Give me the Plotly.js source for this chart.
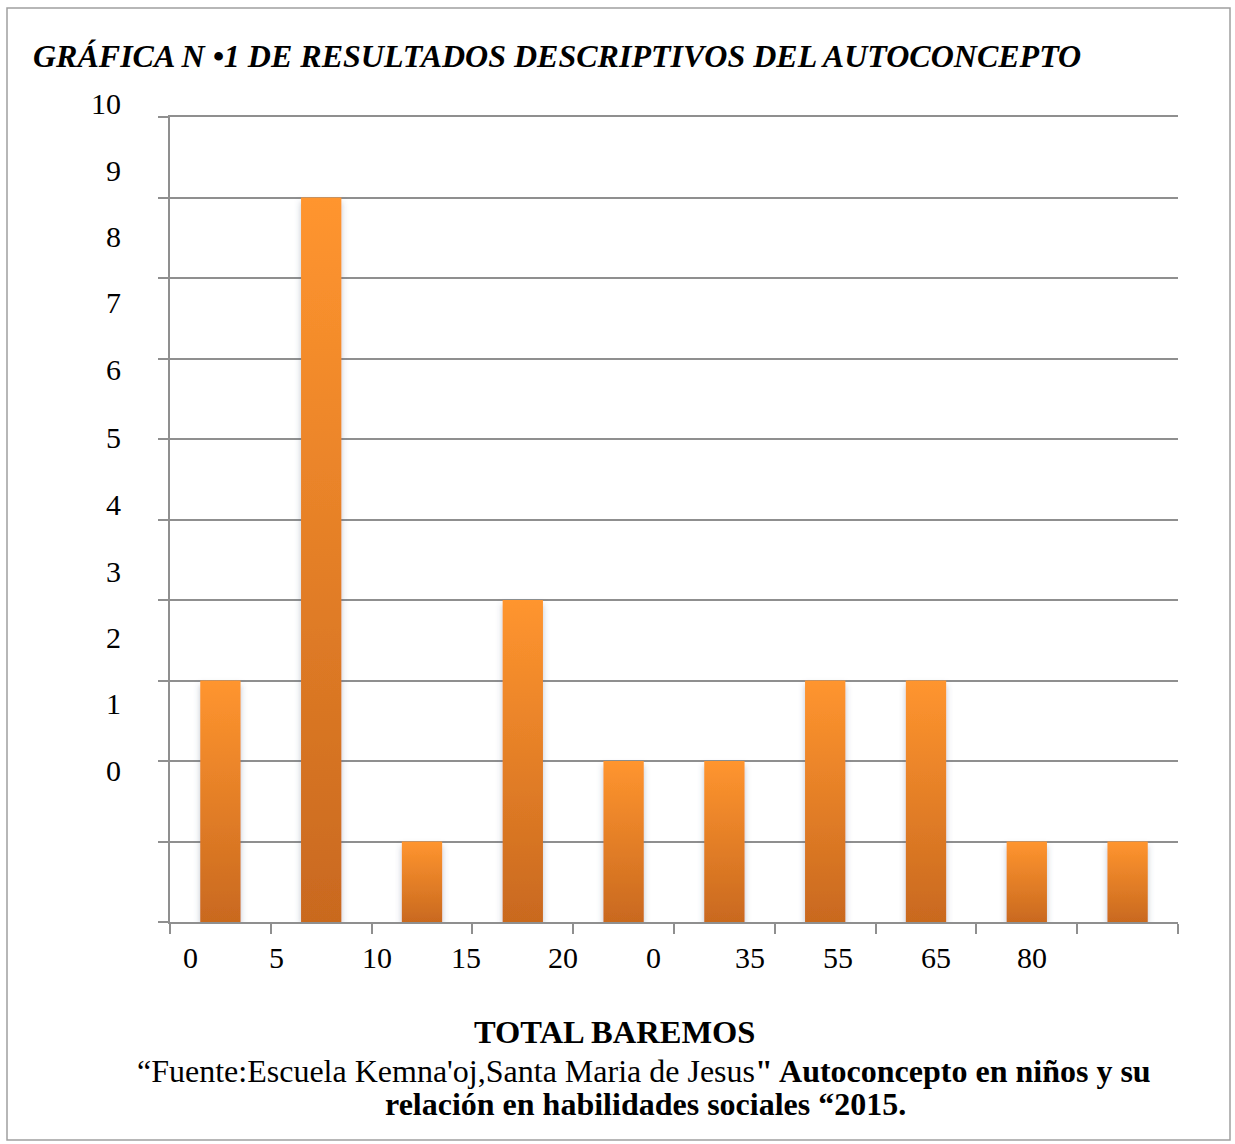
<!DOCTYPE html>
<html>
<head>
<meta charset="utf-8">
<script src="https://cdn.plot.ly/plotly-3.0.1.min.js"></script>
<style>
html,body{margin:0;padding:0;background:#fff;}
#chart{width:1235px;height:1144px;}
</style>
</head>
<body>
<div id="chart"></div>
<script>
// ---- data ----
const categories = [0, 1, 2, 3, 4, 5, 6, 7, 8, 9];
const values = [3, 9, 1, 4, 2, 2, 3, 3, 1, 1];
// x tick labels as printed (and where they sit along the category axis)
const xTickText = ['0', '5', '10', '15', '20', '0', '35', '55', '65', '80'];
const xTickPos = [-0.30, 0.56, 1.55, 2.44, 3.40, 4.30, 5.25, 6.13, 7.10, 8.05];
// y tick labels as printed (offset from the gridlines in the original)
const yTickText = ['10', '9', '8', '7', '6', '5', '4', '3', '2', '1', '0'];
const yTickPos = [10.17, 9.34, 8.51, 7.69, 6.86, 6.02, 5.19, 4.36, 3.54, 2.71, 1.88];

const titleText = '<b><i>GRÁFICA N •1 DE RESULTADOS DESCRIPTIVOS DEL AUTOCONCEPTO</i></b>';
const xTitle = '<b>TOTAL BAREMOS</b>';
const source1 = "“Fuente:Escuela Kemna'oj,Santa Maria de Jesus<b>\" Autoconcepto en niños y su</b>";
const source2 = '<b>relación en habilidades sociales “2015.</b>';

// ---- layout helpers ----
const W = 1235, H = 1144;
const M = {l: 170, r: 57, t: 117, b: 222};
const pw = W - M.l - M.r, ph = H - M.t - M.b;
const yMax = 10;
const px2paperX = p => (p - M.l) / pw;
const px2paperY = p => (H - M.b - p) / ph;

const serif = 'Liberation Serif, Times New Roman, serif';
const gridCol = '#8f8f8f';

const boundaries = categories.map(c => c - 0.5).concat([categories.length - 0.5]);

const annotations = [];
yTickText.forEach((t, i) => {
  annotations.push({
    text: t, xref: 'paper', yref: 'paper', x: px2paperX(123), y: yTickPos[i] / yMax,
    xanchor: 'right', yanchor: 'middle', showarrow: false,
    font: {family: serif, size: 30, color: '#000'}
  });
});
xTickText.forEach((t, i) => {
  annotations.push({
    text: t, xref: 'x', yref: 'paper', x: xTickPos[i], y: px2paperY(957),
    xanchor: 'center', yanchor: 'middle', showarrow: false,
    font: {family: serif, size: 30, color: '#000'}
  });
});
annotations.push({
  text: xTitle, xref: 'paper', yref: 'paper', x: px2paperX(614), y: px2paperY(1032),
  xanchor: 'center', yanchor: 'middle', showarrow: false,
  font: {family: serif, size: 32.5, color: '#000'}
});
annotations.push({
  text: source1, xref: 'paper', yref: 'paper', x: px2paperX(644), y: px2paperY(1071),
  xanchor: 'center', yanchor: 'middle', showarrow: false,
  font: {family: serif, size: 32, color: '#000'}
});
annotations.push({
  text: source2, xref: 'paper', yref: 'paper', x: px2paperX(645), y: px2paperY(1104),
  xanchor: 'center', yanchor: 'middle', showarrow: false,
  font: {family: serif, size: 32, color: '#000'}
});

const trace = {
  type: 'bar', x: categories, y: values, width: 0.4,
  marker: {color: '#E67E28', line: {width: 0}},
  hoverinfo: 'skip'
};

const layout = {
  width: W, height: H,
  margin: M,
  paper_bgcolor: '#fff', plot_bgcolor: '#fff',
  showlegend: false,
  title: {
    text: titleText, xref: 'container', yref: 'container',
    x: 33 / W, xanchor: 'left', y: 1 - 56 / H, yanchor: 'middle',
    font: {family: serif, size: 32, color: '#000'}
  },
  xaxis: {
    range: [-0.5, categories.length - 0.5],
    tickmode: 'array', tickvals: boundaries, showticklabels: false,
    ticks: 'outside', ticklen: 10, tickwidth: 2, tickcolor: gridCol,
    showline: true, mirror: true, linecolor: gridCol, linewidth: 2,
    showgrid: false, zeroline: false, fixedrange: true
  },
  yaxis: {
    range: [0, yMax], tickmode: 'linear', tick0: 0, dtick: 1,
    showticklabels: false,
    ticks: 'outside', ticklen: 10, tickwidth: 2, tickcolor: gridCol,
    showgrid: true, gridcolor: gridCol, gridwidth: 2,
    showline: true, linecolor: gridCol, linewidth: 2,
    zeroline: false, fixedrange: true
  },
  annotations: annotations,
  shapes: [{
    type: 'rect', xref: 'paper', yref: 'paper',
    x0: px2paperX(7), x1: px2paperX(1230), y0: px2paperY(1140), y1: px2paperY(8),
    line: {color: '#a0a0a0', width: 1.5}, fillcolor: 'rgba(0,0,0,0)', layer: 'below'
  }]
};

Plotly.newPlot('chart', [trace], layout, {staticPlot: true, displayModeBar: false}).then(gd => {
  const NS = 'http://www.w3.org/2000/svg';
  const svg = gd.querySelector('.main-svg');
  let defs = svg.querySelector('defs');
  if (!defs) { defs = document.createElementNS(NS, 'defs'); svg.insertBefore(defs, svg.firstChild); }
  const lg = document.createElementNS(NS, 'linearGradient');
  lg.setAttribute('id', 'barGrad');
  lg.setAttribute('x1', '0'); lg.setAttribute('y1', '0');
  lg.setAttribute('x2', '0'); lg.setAttribute('y2', '1');
  [['0', '#FF952F'], ['1', '#C9691F']].forEach(([o, c]) => {
    const s = document.createElementNS(NS, 'stop');
    s.setAttribute('offset', o); s.setAttribute('stop-color', c);
    lg.appendChild(s);
  });
  defs.appendChild(lg);
  const f = document.createElementNS(NS, 'filter');
  f.setAttribute('id', 'barShadow');
  f.setAttribute('x', '-20%'); f.setAttribute('y', '-5%');
  f.setAttribute('width', '140%'); f.setAttribute('height', '115%');
  const ds = document.createElementNS(NS, 'feDropShadow');
  ds.setAttribute('dx', '0'); ds.setAttribute('dy', '4');
  ds.setAttribute('stdDeviation', '3');
  ds.setAttribute('flood-color', '#4a5a7a'); ds.setAttribute('flood-opacity', '0.35');
  f.appendChild(ds);
  defs.appendChild(f);
  gd.querySelectorAll('.barlayer .point path').forEach(p => {
    p.style.fill = 'url(#barGrad)';
    p.style.filter = 'url(#barShadow)';
  });
});
</script>
</body>
</html>
